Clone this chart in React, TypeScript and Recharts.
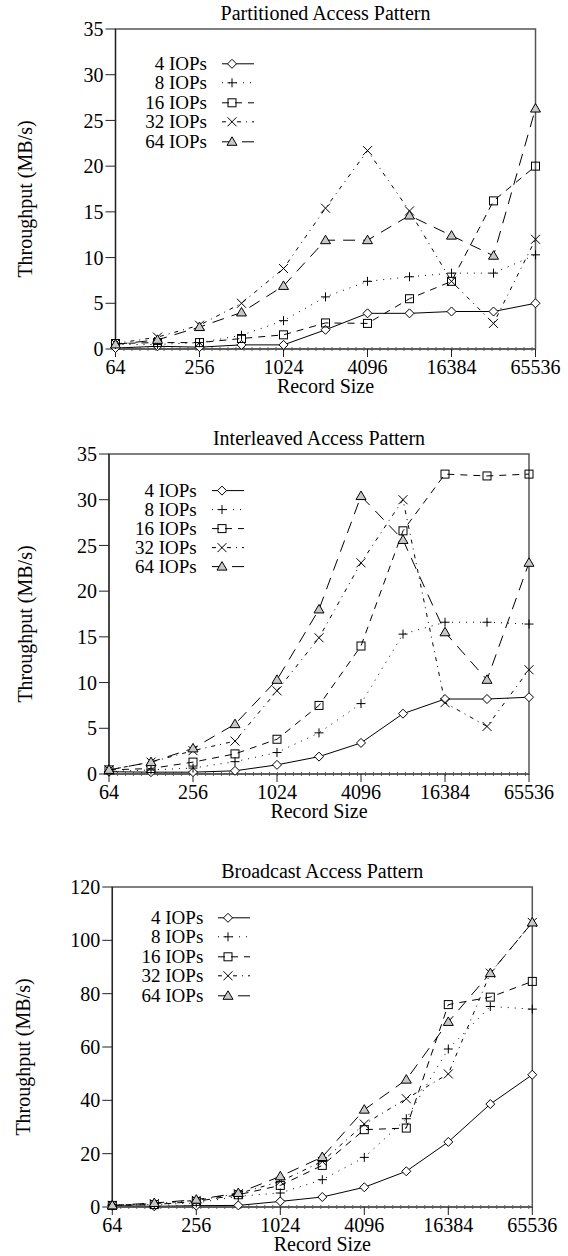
import React from 'react';
import {
  LineChart,
  Line,
  XAxis,
  YAxis,
  Legend,
  Label,
  ReferenceArea,
  ReferenceLine,
} from 'recharts';

// record sizes (x) and tick labels
const SIZES = [64, 128, 256, 512, 1024, 2048, 4096, 8192, 16384, 32768, 65536];
const X_TICKS = [64, 256, 1024, 4096, 16384, 65536];
const IOPS = ['4 IOPs', '8 IOPs', '16 IOPs', '32 IOPs', '64 IOPs'];

// partitioned access pattern (MB/s)
const PART_4 = [0.1, 0.3, 0.2, 0.45, 0.45, 2.1, 3.9, 3.9, 4.1, 4.1, 5.0];
const PART_8 = [0.5, 0.5, 0.7, 1.5, 3.1, 5.7, 7.4, 7.9, 8.3, 8.3, 10.3];
const PART_16 = [0.6, 0.7, 0.7, 1.15, 1.55, 2.85, 2.8, 5.5, 7.4, 16.2, 20.0];
const PART_32 = [0.6, 1.3, 2.6, 5.0, 8.8, 15.4, 21.7, 15.1, 7.4, 2.8, 12.0];
const PART_64 = [0.5, 1.0, 2.4, 4.0, 6.9, 11.9, 11.9, 14.6, 12.4, 10.2, 26.3];

// interleaved access pattern
const INTL_4 = [0.25, 0.2, 0.2, 0.35, 1.0, 1.9, 3.4, 6.6, 8.2, 8.2, 8.4];
const INTL_8 = [0.25, 0.45, 0.65, 1.35, 2.35, 4.5, 7.7, 15.3, 16.6, 16.6, 16.4];
const INTL_16 = [0.45, 0.6, 1.3, 2.2, 3.8, 7.5, 14.0, 26.6, 32.8, 32.6, 32.8];
const INTL_32 = [0.45, 1.3, 2.55, 3.6, 9.1, 14.9, 23.1, 30.0, 7.8, 5.2, 11.4];
const INTL_64 = [0.45, 1.3, 2.8, 5.45, 10.3, 18.0, 30.4, 25.6, 15.5, 10.3, 23.1];

// broadcast access pattern
const BCST_4 = [0.5, 0.25, 0.5, 0.6, 2.1, 3.75, 7.4, 13.4, 24.4, 38.6, 49.6];
const BCST_8 = [0.9, 0.9, 1.5, 4.0, 5.25, 10.25, 18.6, 33.1, 59.25, 75.2, 74.2];
const BCST_16 = [0.6, 0.9, 2.1, 4.6, 8.1, 15.6, 29.0, 29.6, 75.9, 78.7, 84.6];
const BCST_32 = [0.6, 1.25, 2.5, 5.0, 9.6, 17.1, 31.1, 40.6, 49.9, 87.7, 106.7];
const BCST_64 = [0.6, 1.5, 2.75, 5.25, 11.5, 18.75, 36.5, 47.75, 69.4, 87.7, 106.7];

const Y_TICKS_35 = [0, 5, 10, 15, 20, 25, 30, 35];
const Y_TICKS_120 = [0, 20, 40, 60, 80, 100, 120];

const FONT = "'Liberation Serif', serif";
const KEYS = ['s4', 's8', 's16', 's32', 's64'];
const DASH = ['', '1 6', '7 6', '4 5 1 5', '12 8'];
const MARK = ['diamond', 'plus', 'square', 'cross', 'triangle'];

const PLOT_W = 420;
const PLOT_H = 320;
const TOP = 30;
const CHART_H = 398;

function buildRows(series: number[][]) {
  return SIZES.map((size, i) => {
    const row: Record<string, number> = { size };
    KEYS.forEach((k, j) => {
      row[k] = series[j][i];
    });
    return row;
  });
}

function Marker({ cx, cy, kind }: { cx?: number; cy?: number; kind: string }) {
  if (cx == null || cy == null) return null;
  const r = 4.5;
  switch (kind) {
    case 'diamond':
      return (
        <polygon
          points={`${cx},${cy - r} ${cx + r},${cy} ${cx},${cy + r} ${cx - r},${cy}`}
          fill="#fff"
          stroke="#000"
          strokeWidth={1}
        />
      );
    case 'plus':
      return (
        <g stroke="#000" strokeWidth={1}>
          <line x1={cx - r} y1={cy} x2={cx + r} y2={cy} />
          <line x1={cx} y1={cy - r} x2={cx} y2={cy + r} />
        </g>
      );
    case 'square':
      return <rect x={cx - 4} y={cy - 4} width={8} height={8} fill="none" stroke="#000" strokeWidth={1} />;
    case 'cross':
      return (
        <g stroke="#000" strokeWidth={1}>
          <line x1={cx - r} y1={cy - r} x2={cx + r} y2={cy + r} />
          <line x1={cx - r} y1={cy + r} x2={cx + r} y2={cy - r} />
        </g>
      );
    default:
      return (
        <polygon
          points={`${cx},${cy - 5} ${cx + 5},${cy + 3.5} ${cx - 5},${cy + 3.5}`}
          fill="#c8c8c8"
          stroke="#000"
          strokeWidth={1}
        />
      );
  }
}

function LegendBox({ rowH }: { rowH: number }) {
  return (
    <div style={{ fontFamily: FONT, fontSize: 19, color: '#000' }}>
      {IOPS.map((name, j) => (
        <div key={name} style={{ display: 'flex', alignItems: 'center', height: rowH }}>
          <span style={{ width: 80, textAlign: 'right', lineHeight: `${rowH}px`, whiteSpace: 'nowrap' }}>{name}</span>
          <svg width={52} height={rowH}>
            <line
              x1={15}
              x2={47}
              y1={rowH / 2}
              y2={rowH / 2}
              stroke="#000"
              strokeWidth={1}
              strokeDasharray={DASH[j] || undefined}
            />
            <Marker cx={25} cy={rowH / 2} kind={MARK[j]} />
          </svg>
        </div>
      ))}
    </div>
  );
}

interface ChartProps {
  title: string;
  series: number[][];
  yMax: number;
  yTicks: number[];
  top: number;
  plotLeft: number;
  yLabelX: number;
  legendRight: number;
  legendTop: number;
  rowH: number;
}

function AccessChart(p: ChartProps) {
  const data = buildRows(p.series);
  const yAxisW = 60;
  const tick = { fontFamily: FONT, fontSize: 20, fill: '#000', style: { fontFamily: FONT } };
  return (
    <div style={{ position: 'absolute', left: 0, top: p.top, width: 568, height: CHART_H }}>
      <div
        style={{
          position: 'absolute',
          left: p.plotLeft,
          top: TOP - 16 - 12,
          width: PLOT_W,
          textAlign: 'center',
          fontFamily: FONT,
          fontSize: 20,
          lineHeight: '24px',
          color: '#000',
        }}
      >
        {p.title}
      </div>
      <LineChart
        width={568}
        height={CHART_H}
        data={data}
        style={{ fontFamily: FONT }}
        margin={{ top: TOP, right: 568 - p.plotLeft - PLOT_W, bottom: CHART_H - TOP - PLOT_H - 30, left: p.plotLeft - yAxisW }}
      >
        <XAxis
          dataKey="size"
          type="number"
          scale="log"
          domain={[64, 65536]}
          ticks={X_TICKS}
          interval={0}
          height={30}
          tickSize={8}
          tickMargin={3}
          tick={tick}
          stroke="#444"
          axisLine={{ stroke: '#555', strokeWidth: 1.5 }}
          tickLine={{ stroke: '#222' }}
        >
          <Label
            content={(lp: any) => {
              const vb = lp.viewBox || {};
              return (
                <text
                  x={vb.x + vb.width / 2}
                  y={vb.y + 44}
                  textAnchor="middle"
                  fontSize={20}
                  fill="#000"
                  style={{ fontFamily: FONT }}
                >
                  Record Size
                </text>
              );
            }}
          />
        </XAxis>
        <YAxis
          type="number"
          domain={[0, p.yMax]}
          ticks={p.yTicks}
          interval={0}
          width={yAxisW}
          tickSize={10}
          tickMargin={2}
          tick={tick}
          axisLine={{ stroke: '#222', strokeWidth: 1.2 }}
          tickLine={{ stroke: '#222' }}
        >
          <Label
            content={(lp: any) => {
              const vb = lp.viewBox || {};
              const cy = vb.y + vb.height / 2 + 10;
              return (
                <text
                  x={p.yLabelX}
                  y={cy}
                  transform={`rotate(-90 ${p.yLabelX} ${cy})`}
                  textAnchor="middle"
                  dominantBaseline="central"
                  fontSize={20}
                  fill="#000"
                  style={{ fontFamily: FONT }}
                >
                  Throughput (MB/s)
                </text>
              );
            }}
          />
        </YAxis>
        <ReferenceArea x1={64} x2={65536} y1={0} y2={p.yMax} fill="none" stroke="#555" strokeWidth={1.5} />
        <ReferenceLine y={0} stroke="#666" strokeWidth={4} strokeDasharray="1 7" />
        {KEYS.map((k, j) => (
          <Line
            key={k}
            dataKey={k}
            name={IOPS[j]}
            stroke="#000"
            strokeWidth={1}
            strokeDasharray={DASH[j] || undefined}
            isAnimationActive={false}
            dot={(dp: any) => <Marker key={`${k}-${dp.index}`} cx={dp.cx} cy={dp.cy} kind={MARK[j]} />}
            activeDot={false}
          />
        ))}
        <Legend
          layout="vertical"
          align="center"
          verticalAlign="middle"
          wrapperStyle={{ left: p.plotLeft + p.legendRight - 80, top: TOP + p.legendTop - p.rowH / 2, width: 140 }}
          content={() => <LegendBox rowH={p.rowH} />}
        />
      </LineChart>
    </div>
  );
}

export default function App() {
  return (
    <div
      style={{
        position: 'absolute',
        left: 0,
        top: 0,
        width: 568,
        height: 1256,
        overflow: 'hidden',
        background: '#fff',
        fontFamily: FONT,
      }}
    >
      <AccessChart
        title="Partitioned Access Pattern"
        series={[PART_4, PART_8, PART_16, PART_32, PART_64]}
        yMax={35}
        yTicks={Y_TICKS_35}
        top={-0.7}
        plotLeft={115.5}
        yLabelX={25}
        legendRight={91.5}
        legendTop={34}
        rowH={19.6}
      />
      <AccessChart
        title="Interleaved Access Pattern"
        series={[INTL_4, INTL_8, INTL_16, INTL_32, INTL_64]}
        yMax={35}
        yTicks={Y_TICKS_35}
        top={424.3}
        plotLeft={109}
        yLabelX={25}
        legendRight={87.7}
        legendTop={36}
        rowH={19.2}
      />
      <AccessChart
        title="Broadcast Access Pattern"
        series={[BCST_4, BCST_8, BCST_16, BCST_32, BCST_64]}
        yMax={120}
        yTicks={Y_TICKS_120}
        top={857}
        plotLeft={112.3}
        yLabelX={23}
        legendRight={91}
        legendTop={30.3}
        rowH={19.6}
      />
    </div>
  );
}
